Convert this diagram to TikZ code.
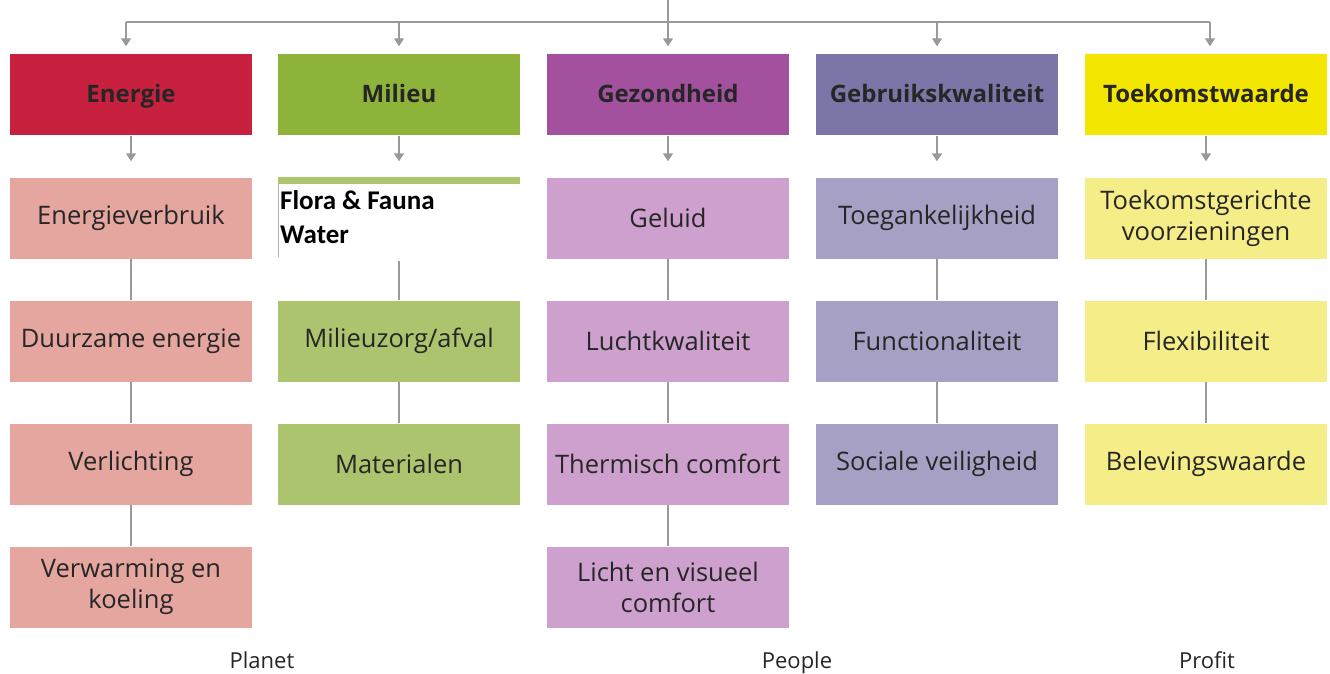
\documentclass[tikz,border=0pt]{standalone}
\usepackage{fontspec}
\setmainfont{Open Sans}
\newfontfamily\calib{Carlito}
\usetikzlibrary{arrows.meta}
\definecolor{enH}{HTML}{C8203F}\definecolor{enS}{HTML}{E5A6A0}
\definecolor{miH}{HTML}{8DB33A}\definecolor{miS}{HTML}{ADC46E}
\definecolor{geH}{HTML}{A3509F}\definecolor{geS}{HTML}{CDA0CD}
\definecolor{gbH}{HTML}{7C75A7}\definecolor{gbS}{HTML}{A6A1C4}
\definecolor{toH}{HTML}{F3E600}\definecolor{toS}{HTML}{F5ED87}
\definecolor{ln}{HTML}{999999}
\tikzset{
 hdr/.style={minimum width=242pt,minimum height=81pt,inner sep=0pt,text height=17pt,text depth=1pt,font=\fontsize{24}{28}\selectfont\bfseries,text=black!85},
 sub/.style={minimum width=242pt,minimum height=81pt,inner sep=0pt,align=center,font=\fontsize{25.5}{31}\selectfont,text=black!85},
 arr/.style={draw=ln,line width=1.4pt,-{Triangle[width=10pt,length=8pt]}},
 con/.style={draw=ln,line width=1.2pt},
 lab/.style={font=\fontsize{22}{26}\selectfont,text=black!85}
}
\begin{document}
\begin{tikzpicture}[x=1pt,y=-1pt]
\useasboundingbox (0,0) rectangle (1330,674);
% headers
\node[hdr,fill=enH] (h1) at (131,95) {Energie};
\node[hdr,fill=miH] (h2) at (399,95) {Milieu};
\node[hdr,fill=geH] (h3) at (668,95) {Gezondheid};
\node[hdr,fill=gbH] (h4) at (937,95) {Gebruikskwaliteit};
\node[hdr,fill=toH] (h5) at (1206,95) {Toekomstwaarde};
% top connectors
\coordinate (top) at (668,0);
\coordinate (j) at (668,22);
\coordinate (l) at (126,22);
\coordinate (r) at (1210,22);
\draw[con] (top) -- (j);
\draw[con] (l) -- (r);
\draw[arr] (l) -- ([yshift=8pt]h1.north -| l);
\draw[arr] (h2.north |- l) -- ([yshift=8pt]h2.north);
\draw[arr] (j) -- ([yshift=8pt]h3.north);
\draw[arr] (h4.north |- l) -- ([yshift=8pt]h4.north);
\draw[arr] (r) -- ([yshift=8pt]h5.north -| r);
% Energie column
\node[sub,fill=enS] (e1) at (131,218) {Energieverbruik};
\node[sub,fill=enS] (e2) at (131,341) {Duurzame energie};
\node[sub,fill=enS] (e3) at (131,464) {Verlichting};
\node[sub,fill=enS] (e4) at (131,587) {Verwarming en\\koeling};
% Milieu column
\node[minimum width=242pt,minimum height=81pt,inner sep=0pt] (m1) at (399,218) {};
\fill[miS] (m1.north west) rectangle ([yshift=-7pt]m1.north east);
\draw[black!30,line width=0.6pt] ([yshift=-7pt]m1.north west) -- ([yshift=2pt]m1.south west);
\node[anchor=north west,align=left,inner sep=0pt,font=\calib\fontsize{27}{34}\selectfont\bfseries] (m1t) at (280,190) {Flora \& Fauna\\Water};
\node[sub,fill=miS] (m2) at (399,341) {Milieuzorg/afval};
\node[sub,fill=miS] (m3) at (399,464) {Materialen};
% Gezondheid column
\node[sub,fill=geS] (g1) at (668,218) {Geluid};
\node[sub,fill=geS] (g2) at (668,341) {Luchtkwaliteit};
\node[sub,fill=geS] (g3) at (668,464) {Thermisch comfort};
\node[sub,fill=geS] (g4) at (668,587) {Licht en visueel\\comfort};
% Gebruikskwaliteit column
\node[sub,fill=gbS] (b1) at (937,218) {Toegankelijkheid};
\node[sub,fill=gbS] (b2) at (937,341) {Functionaliteit};
\node[sub,fill=gbS] (b3) at (937,464) {Sociale veiligheid};
% Toekomstwaarde column
\node[sub,fill=toS] (t1) at (1206,218) {Toekomstgerichte\\voorzieningen};
\node[sub,fill=toS] (t2) at (1206,341) {Flexibiliteit};
\node[sub,fill=toS] (t3) at (1206,464) {Belevingswaarde};
% header to first sub arrows
\draw[arr] (h1.south) -- ([yshift=16pt]e1.north);
\draw[arr] (h2.south) -- ([yshift=16pt]m1.north);
\draw[arr] (h3.south) -- ([yshift=16pt]g1.north);
\draw[arr] (h4.south) -- ([yshift=16pt]b1.north);
\draw[arr] (h5.south) -- ([yshift=16pt]t1.north);
% vertical connectors
\draw[con] (e1) -- (e2); \draw[con] (e2) -- (e3); \draw[con] (e3) -- (e4);
\draw[con] ([yshift=-2pt]m1.south) -- (m2); \draw[con] (m2) -- (m3);
\draw[con] (g1) -- (g2); \draw[con] (g2) -- (g3); \draw[con] (g3) -- (g4);
\draw[con] (b1) -- (b2); \draw[con] (b2) -- (b3);
\draw[con] (t1) -- (t2); \draw[con] (t2) -- (t3);
% labels
\node[lab,text height=16pt,text depth=5pt] (p1) at (262,663) {Planet};
\node[lab,text height=16pt,text depth=5pt] (p2) at (797,663) {People};
\node[lab,text height=16pt,text depth=5pt] (p3) at (1207,663) {Profit};
\end{tikzpicture}
\end{document}
